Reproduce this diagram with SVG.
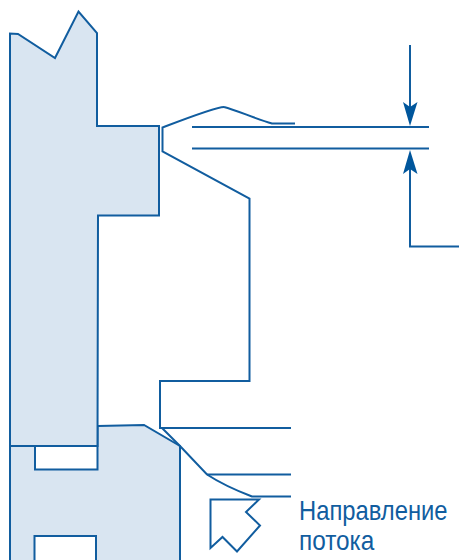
<svg xmlns="http://www.w3.org/2000/svg" width="459" height="560" viewBox="0 0 459 560">
<style>
.s{fill:#d9e5f1;stroke:#115d9f;stroke-width:2;stroke-linejoin:miter}
.l{fill:none;stroke:#115d9f;stroke-width:2}
.h{fill:#ffffff;stroke:#115d9f;stroke-width:2}
.t{font-family:"Liberation Sans",Arial,sans-serif;font-size:28px;fill:#115d9f}
.a{fill:#00569c;stroke:none}
</style>
<g id="lower-part">
<path class="s" d="M97.500 426L144 425L180 446V561H10V446H35V469.500H97.500Z"/>
<path class="h" d="M34.500 561V536H96V561"/>
</g>
<g id="upper-part">
<path class="s" d="M10 446V33.500L18 34L55 58L78.500 11.500L97 33V126H159V215.500H98L97.500 446Z"/>
</g>
<g id="gap-profile">
<path class="l" d="M224 107C216 107 190 117 162.500 127.500V151.500L249.500 198.500V381H160V428H291"/>
<path class="l" d="M224 107C236 110 256 119 272 123.500H295"/>
<path class="l" d="M162 428L180 446L207 474.500C220 483 235 490 252 496.500H291"/>
<path class="l" d="M207 474.500H291"/>
</g>
<g id="connectors">
<path class="l" d="M192 127H429M192 148.500H429"/>
<path class="l" d="M410 45V110M410 165V246.500H459"/>
<path class="a" d="M410 126L403 102L410 107L417.500 102Z"/>
<path class="a" d="M410 150L403 174L410 169L417.500 174Z"/>
</g>
<g id="flow-arrow">
<path class="l" d="M210.500 499.500H259L246 512L260 525.500L237 551.500L222.500 537L210.500 548Z"/>
<text class="t" transform="translate(299 520) scale(.85 1)">Направление</text>
<text class="t" transform="translate(299 550) scale(.87 1)">потока</text>
</g>
</svg>
